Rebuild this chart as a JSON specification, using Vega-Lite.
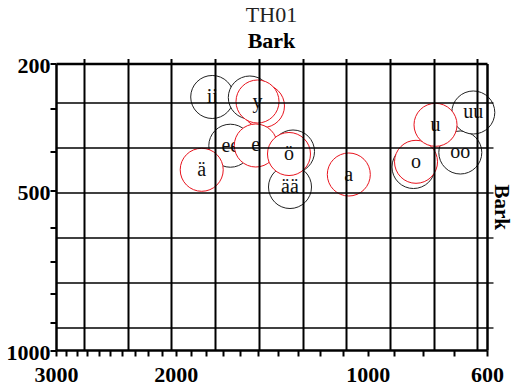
{
  "$schema": "https://vega.github.io/schema/vega-lite/v6.json",
  "width": 431,
  "height": 286.5,
  "autosize": {"type": "none"},
  "padding": {"left": 56, "top": 63.5, "right": 28, "bottom": 41},
  "background": "white",
  "title": {
    "text": "TH01",
    "subtitle": "Bark",
    "font": "Liberation Serif",
    "fontSize": 22,
    "fontWeight": "normal",
    "color": "#222",
    "subtitleFont": "Liberation Serif",
    "subtitleFontSize": 22,
    "subtitleFontWeight": "bold",
    "subtitleColor": "#000",
    "anchor": "middle",
    "offset": 2,
    "subtitlePadding": 4
  },
  "config": {
    "view": {"stroke": null},
    "axis": {
      "labelFont": "Liberation Serif",
      "labelFontWeight": "bold",
      "labelFontSize": 22,
      "labelColor": "black",
      "tickColor": "black",
      "domainColor": "black",
      "gridColor": "black",
      "gridOpacity": 1,
      "labelFlush": false,
      "labelOverlap": false,
      "labelBound": false,
      "titleFont": "Liberation Serif",
      "titleColor": "black"
    }
  },
  "datasets": {
    "long": [
      {"vowel": "ii", "label": "ii", "f2_bark": 12.066, "f1_bark": 2.868},
      {"vowel": "yy", "label": "", "f2_bark": 11.206, "f1_bark": 2.880},
      {"vowel": "ee", "label": "ee", "f2_bark": 11.652, "f1_bark": 3.955},
      {"vowel": "öö", "label": "", "f2_bark": 10.218, "f1_bark": 4.084},
      {"vowel": "ää", "label": "ää", "f2_bark": 10.287, "f1_bark": 4.876},
      {"vowel": "aa", "label": "", "f2_bark": 7.463, "f1_bark": 4.430},
      {"vowel": "oo", "label": "oo", "f2_bark": 6.392, "f1_bark": 4.106},
      {"vowel": "uu", "label": "uu", "f2_bark": 6.095, "f1_bark": 3.214}
    ],
    "short": [
      {"vowel": "i", "label": "", "f2_bark": 10.905, "f1_bark": 3.069},
      {"vowel": "y", "label": "y", "f2_bark": 11.030, "f1_bark": 2.969},
      {"vowel": "e", "label": "e", "f2_bark": 11.069, "f1_bark": 3.950},
      {"vowel": "ö", "label": "ö", "f2_bark": 10.310, "f1_bark": 4.140},
      {"vowel": "ä", "label": "ä", "f2_bark": 12.306, "f1_bark": 4.492},
      {"vowel": "a", "label": "a", "f2_bark": 8.942, "f1_bark": 4.597},
      {"vowel": "o", "label": "o", "f2_bark": 7.405, "f1_bark": 4.314},
      {"vowel": "u", "label": "u", "f2_bark": 6.959, "f1_bark": 3.489}
    ]
  },
  "layer": [
    {
      "data": {"name": "long"},
      "mark": {"type": "point", "shape": "circle", "filled": true, "fill": "white", "stroke": "#222", "strokeWidth": 1, "size": 1850, "opacity": 1},
      "encoding": {
        "x": {
          "field": "f2_bark", "type": "quantitative",
          "scale": {"domain": [5.7815, 15.6386], "reverse": true, "nice": false, "zero": false},
          "axis": {
            "orient": "bottom",
            "values": [15.6386, 15.4068, 15.1673, 14.9196, 14.663, 14.397, 14.1208, 13.8336, 13.5347, 13.223, 12.8975, 12.5569, 12.1998, 11.8248, 11.43, 11.0134, 10.5728, 10.1055, 9.6085, 9.0784, 8.5114, 7.9031, 7.2487, 6.5431, 5.7815],
            "labelExpr": "datum.value == 15.6386 ? '3000' : datum.value == 12.8975 ? '2000' : datum.value == 8.5114 ? '1000' : datum.value == 5.7815 ? '600' : ''",
            "tickSize": 6, "tickWidth": 2, "domainWidth": 2.5, "labelPadding": 8,
            "grid": false, "title": null, "zindex": 1
          }
        },
        "y": {
          "field": "f1_bark", "type": "quantitative",
          "scale": {"domain": [2.1212, 8.5114], "reverse": true, "nice": false, "zero": false},
          "axis": {
            "orient": "left",
            "values": [2.1212, 3.1258, 4.0738, 4.9592, 5.7815, 6.5431, 7.2487, 7.9031, 8.5114],
            "labelExpr": "datum.value == 2.1212 ? '200' : datum.value == 4.9592 ? '500' : datum.value == 8.5114 ? '1000' : ''",
            "tickSize": 6, "tickWidth": 2, "domainWidth": 2.5, "labelPadding": 0, "labelOffset": 2,
            "labelBaseline": "middle", "grid": false, "title": null, "zindex": 1
          }
        }
      }
    },
    {
      "data": {"name": "long"},
      "mark": {"type": "text", "font": "Liberation Serif", "fontSize": 20, "color": "#111", "baseline": "middle", "align": "center"},
      "encoding": {
        "x": {
          "field": "f2_bark", "type": "quantitative",
          "scale": {"domain": [5.7815, 15.6386], "reverse": true, "nice": false, "zero": false},
          "axis": {
            "orient": "top", "values": [6, 7, 8, 9, 10, 11, 12, 13, 14, 15], "labels": false,
            "tickSize": 5, "tickWidth": 2, "grid": true, "gridWidth": 2, "domainWidth": 2.5,
            "title": null, "zindex": 1
          }
        },
        "y": {
          "field": "f1_bark", "type": "quantitative",
          "scale": {"domain": [2.1212, 8.5114], "reverse": true, "nice": false, "zero": false},
          "axis": {
            "orient": "right", "values": [3, 4, 5, 6, 7, 8], "labels": false,
            "tickSize": 6, "tickWidth": 1.3, "grid": true, "gridWidth": 1.3, "domainWidth": 2.5,
            "title": "Bark", "titleFontSize": 21, "titleFontWeight": "bold", "titleAngle": 90,
            "titlePadding": -3, "zindex": 1
          }
        },
        "text": {"field": "label"}
      }
    },
    {
      "data": {"name": "short"},
      "mark": {"type": "point", "shape": "circle", "filled": true, "fill": "white", "stroke": "#e8141e", "strokeWidth": 1, "size": 1850, "opacity": 1},
      "encoding": {
        "x": {"field": "f2_bark", "type": "quantitative", "axis": null},
        "y": {"field": "f1_bark", "type": "quantitative", "axis": null}
      }
    },
    {
      "data": {"name": "short"},
      "mark": {"type": "text", "font": "Liberation Serif", "fontSize": 20, "color": "#111", "baseline": "middle", "align": "center"},
      "encoding": {
        "x": {"field": "f2_bark", "type": "quantitative", "axis": null},
        "y": {"field": "f1_bark", "type": "quantitative", "axis": null},
        "text": {"field": "label"}
      }
    }
  ],
  "resolve": {"axis": {"x": "independent", "y": "independent"}}
}
